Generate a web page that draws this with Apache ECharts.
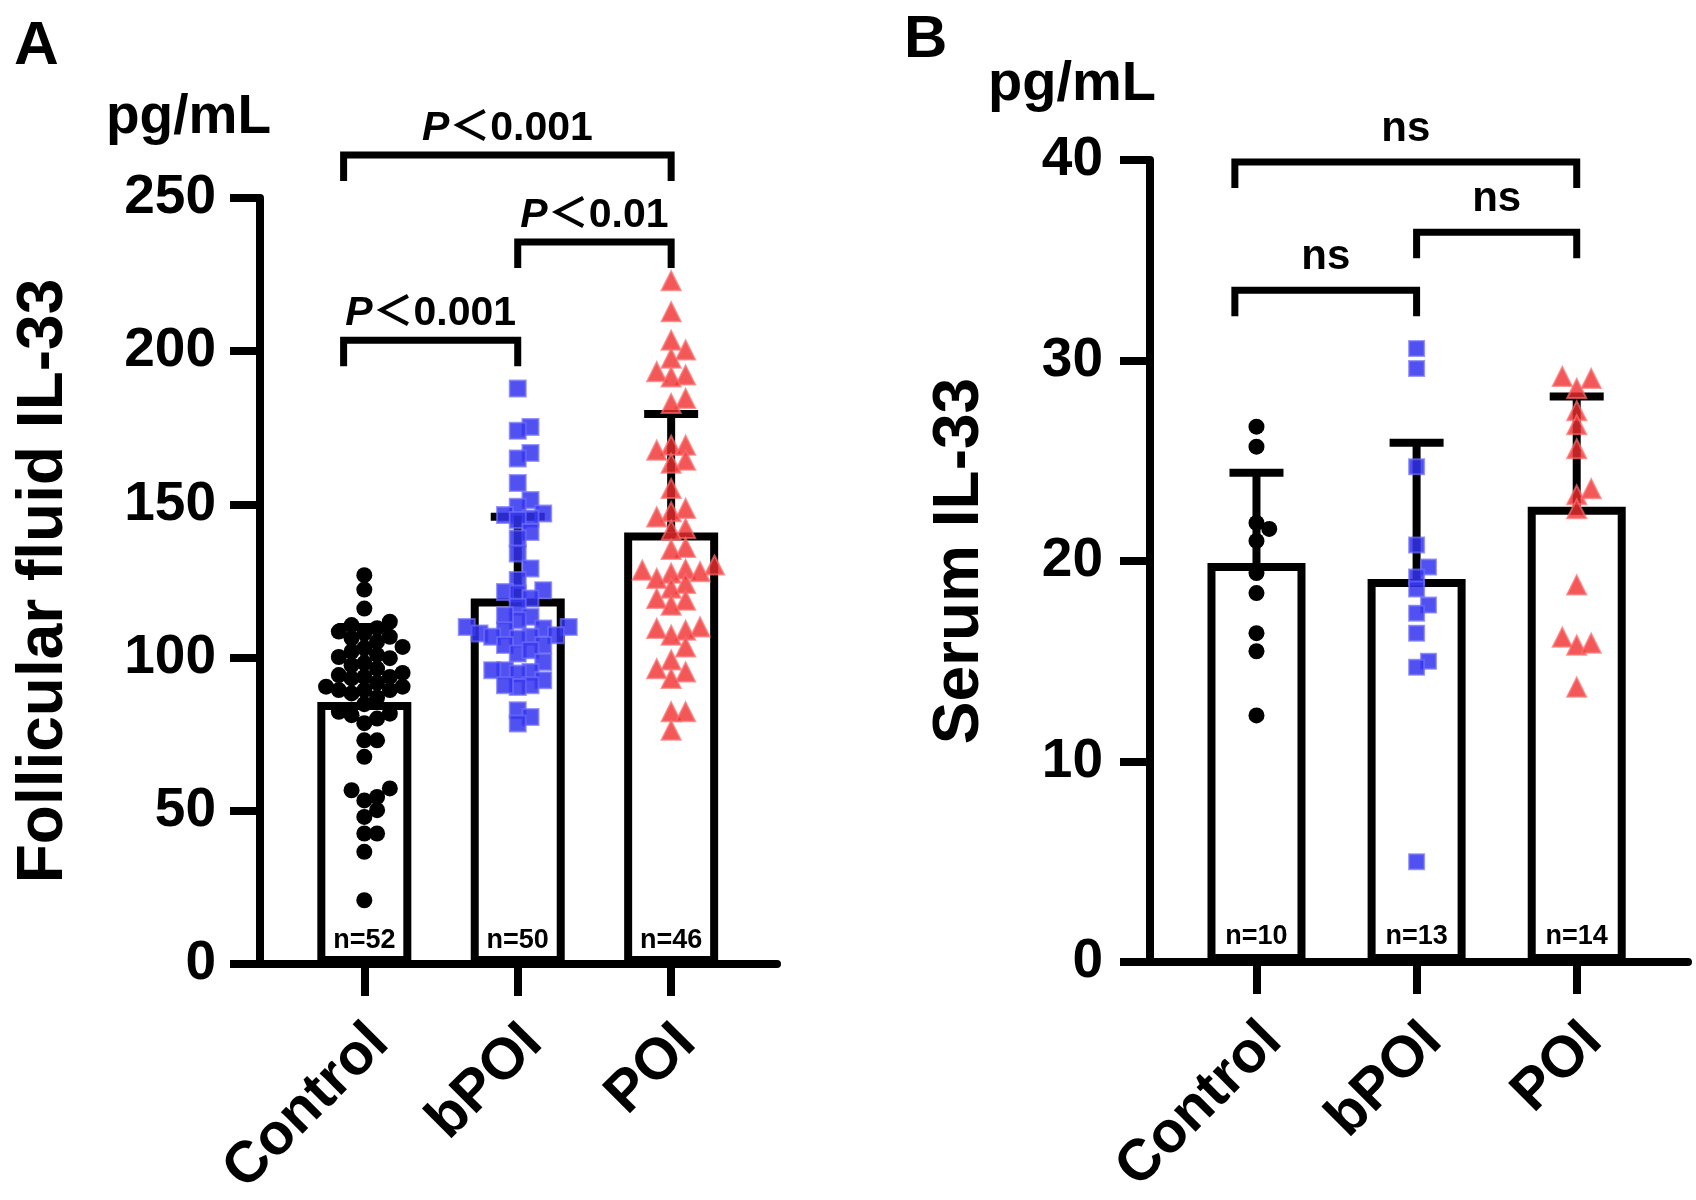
<!DOCTYPE html>
<html>
<head>
<meta charset="utf-8">
<title>IL-33</title>
<script src="https://cdn.jsdelivr.net/npm/echarts@6/dist/echarts.min.js"></script>
<style>
  html, body { margin: 0; padding: 0; background: #fff; }
  #chart { width: 1696px; height: 1200px; }
</style>
</head>
<body>
<div id="chart"></div>
<script>
var FONT = "'Liberation Sans', Arial, 'Noto Sans CJK SC', sans-serif";

var groups = ['Control', 'bPOI', 'POI'];

// panel A - follicular fluid IL-33, pg/mL
var ffControl = [126.9, 122.2, 116.0, 111.7, 110.6, 109.6, 108.0, 106.8, 106.3, 103.5, 103.1, 100.2, 99.8,
  98.2, 97.5, 94.3, 93.7, 93.7, 93.2, 90.5, 90.5, 89.4, 89.4, 89.4, 88.3, 82.3, 81.7, 81.2, 80.1, 78.6,
  73.0, 73.0, 67.6, 57.3, 56.7, 54.5, 53.4, 50.2, 48.0, 42.6, 42.6, 36.6, 20.8,
  108.5, 105.2, 102.0, 100.9, 96.4, 95.0, 91.8, 87.0, 84.8];
var ffBpoi = [187.8, 175.3, 174.0, 166.8, 165.0, 157.0, 151.4, 149.2, 147.0, 146.5, 145.4, 144.9, 141.0,
  138.9, 134.0, 129.1, 125.3, 122.0, 121.4, 120.9, 119.3, 116.6, 113.3, 112.2, 113.8, 110.0, 109.5, 110.0,
  108.9, 106.8, 107.3, 107.9, 106.8, 106.2, 104.1, 104.1, 101.3, 102.4, 98.6, 95.9, 95.3, 95.9, 94.8,
  92.6, 91.0, 90.4, 91.0, 82.8, 80.6, 78.5];
var ffPoi = [223.0, 212.9, 203.6, 200.4, 197.7, 193.3, 192.2, 191.6, 184.6, 182.9, 169.3, 169.3, 167.7,
  164.4, 163.4, 155.2, 148.7, 147.6, 145.9, 142.1, 141.6, 135.9, 135.3, 130.2, 128.8, 128.5, 128.0, 127.5,
  125.8, 124.2, 122.6, 119.3, 118.7, 117.1, 110.0, 109.5, 108.9, 107.3, 103.5, 99.2, 96.4, 95.3, 93.2,
  82.3, 82.3, 76.3];
var ffMean = [85.5, 119.3, 140.8];
var ffSd = [24.5, 26.7, 38.7];
var ffN = [52, 50, 46];
// comparison brackets: from, to, height
var ffBrackets = [[-0.135, 2, 264], [1, 2, 235.6], [-0.135, 1, 203.6]];
var ffLabels = ['P＜0.001', 'P＜0.01', 'P＜0.001'];

// panel B - serum IL-33, pg/mL
var seControl = [26.7, 25.7, 21.9, 21.6, 21.0, 19.4, 18.4, 16.4, 15.5, 12.3];
var seBpoi = [30.6, 29.6, 24.7, 20.8, 19.7, 19.2, 18.6, 17.8, 17.4, 16.4, 15.0, 14.7, 5.0];
var sePoi = [29.1, 29.2, 28.6, 27.5, 26.8, 25.6, 23.3, 23.6, 22.6, 18.8, 16.2, 15.8, 15.9, 13.7];
var seMean = [19.9, 19.1, 22.7];
var seSd = [4.5, 6.8, 5.5];
var seN = [10, 13, 14];
var seBrackets = [[-0.135, 2, 39.9], [1, 2, 36.4], [-0.135, 1, 33.5]];
var seLabels = ['ns', 'ns', 'ns'];

var chart = echarts.init(document.getElementById('chart'));

function xAxisFor(grid, min, max) {
  return {
    type: 'value', gridIndex: grid, min: min, max: max,
    axisLine: { onZero: false, lineStyle: { color: '#000', width: 8 } },
    axisTick: { customValues: [0, 1, 2], length: 32, lineStyle: { color: '#000', width: 8 } },
    axisLabel: {
      customValues: [0.1, 1.1, 2.1], rotate: 45, margin: 70,
      formatter: function (v) { return groups[Math.round(v)]; },
      color: '#000', fontSize: 58, fontWeight: 'bold', fontFamily: FONT
    },
    splitLine: { show: false }
  };
}

function yAxisFor(grid, max, step, title, gap, margin) {
  return {
    type: 'value', gridIndex: grid, min: 0, max: max, interval: step,
    name: title, nameLocation: 'middle', nameRotate: 90, nameGap: gap,
    nameTextStyle: { color: '#000', fontSize: 64, fontWeight: 'bold', fontFamily: FONT },
    axisLine: { show: true, onZero: false, lineStyle: { color: '#000', width: 8 } },
    axisTick: { show: true, length: 30, lineStyle: { color: '#000', width: 8 } },
    axisLabel: { margin: margin, color: '#000', fontSize: 55, fontWeight: 'bold', fontFamily: FONT },
    splitLine: { show: false }
  };
}

function barSeries(id, axis, means, ns, width, dist) {
  return {
    id: id, type: 'bar', xAxisIndex: axis, yAxisIndex: axis, barWidth: width, z: 1,
    data: means.map(function (m, i) { return [i, m]; }),
    itemStyle: { color: '#fff', borderColor: '#000', borderWidth: 8 },
    label: {
      show: true, position: 'insideBottom', distance: dist,
      formatter: function (p) { return 'n=' + ns[p.dataIndex]; },
      color: '#000', fontSize: 27, fontWeight: 'bold', fontFamily: FONT
    }
  };
}

function errSeries(id, axis, means, sds) {
  return {
    id: id, type: 'custom', xAxisIndex: axis, yAxisIndex: axis, z: 2, clip: false,
    data: means.map(function (m, i) { return [i, m, sds[i]]; }),
    renderItem: function (params, api) {
      var x = api.value(0), m = api.value(1), s = api.value(2);
      var p0 = api.coord([x, m]), p1 = api.coord([x, m + s]);
      var cap = 27;
      return { type: 'group', children: [
        { type: 'line', shape: { x1: p0[0], y1: p0[1], x2: p1[0], y2: p1[1] }, style: { stroke: '#000', lineWidth: 8 } },
        { type: 'line', shape: { x1: p1[0] - cap, y1: p1[1], x2: p1[0] + cap, y2: p1[1] }, style: { stroke: '#000', lineWidth: 8 } }
      ] };
    }
  };
}

function bracketSeries(id, axis, rows, labels, lift, size) {
  return {
    id: id, type: 'custom', xAxisIndex: axis, yAxisIndex: axis, z: 5, clip: false,
    data: rows,
    renderItem: function (params, api) {
      var a = api.coord([api.value(0), api.value(2)]);
      var b = api.coord([api.value(1), api.value(2)]);
      var leg = 26;
      var lab = labels[params.dataIndex];
      var txt = lab.charAt(0) === 'P' ? '{i|P}' + lab.slice(1) : lab;
      return { type: 'group', children: [
        { type: 'polyline',
          shape: { points: [[a[0], a[1] + leg], [a[0], a[1]], [b[0], b[1]], [b[0], b[1] + leg]] },
          style: { stroke: '#000', lineWidth: 7, fill: null } },
        { type: 'text',
          style: {
            x: (a[0] + b[0]) / 2, y: a[1] - lift, text: txt, align: 'center', verticalAlign: 'middle',
            fill: '#000', font: 'bold ' + size + 'px ' + FONT,
            rich: { i: { fontStyle: 'italic', fontWeight: 'bold', fontSize: size, fontFamily: FONT, fill: '#000' } }
          } }
      ] };
    }
  };
}

function ptSeries(id, axis, cat, values, symbol, size, color, edge) {
  return {
    id: id, type: 'scatter', xAxisIndex: axis, yAxisIndex: axis, z: 3,
    symbol: symbol, symbolSize: size,
    itemStyle: { color: color, opacity: 1, borderColor: edge || color, borderWidth: edge ? 2 : 0 },
    data: values.map(function (v) { return [cat, v]; })
  };
}

var BLUE = 'rgba(50,50,240,0.85)', BLUE_EDGE = 'rgba(110,110,250,0.7)';
var RED = 'rgba(240,45,45,0.8)', RED_EDGE = 'rgba(250,110,110,0.7)';

chart.setOption({
  animation: false,
  backgroundColor: '#fff',
  grid: [
    { left: 260, right: 919, top: 198, bottom: 236, outerBoundsMode: 'none', containLabel: false },
    { left: 1150, right: 8, top: 160, bottom: 238, outerBoundsMode: 'none', containLabel: false }
  ],
  xAxis: [xAxisFor(0, -0.68, 2.69), xAxisFor(1, -0.665, 2.695)],
  yAxis: [
    yAxisFor(0, 250, 50, 'Follicular fluid IL-33', 184, 44),
    yAxisFor(1, 40, 10, 'Serum IL-33', 158, 47)
  ],
  graphic: [
    { type: 'text', left: 14, top: 16, style: { text: 'A', font: 'bold 62px ' + FONT, fill: '#000' } },
    { type: 'text', left: 904, top: 10, style: { text: 'B', font: 'bold 60px ' + FONT, fill: '#000' } },
    { type: 'text', left: 106, top: 90, style: { text: 'pg/mL', font: 'bold 55px ' + FONT, fill: '#000' } },
    { type: 'text', left: 988, top: 57, style: { text: 'pg/mL', font: 'bold 56px ' + FONT, fill: '#000' } }
  ],
  series: [
    barSeries('ffBars', 0, ffMean, ffN, 94, 10),
    errSeries('ffErr', 0, ffMean, ffSd),
    ptSeries('ffP0', 0, 0, ffControl, 'circle', 16, '#000'),
    ptSeries('ffP1', 0, 1, ffBpoi, 'rect', 16, BLUE, BLUE_EDGE),
    ptSeries('ffP2', 0, 2, ffPoi, 'triangle', 19, RED, RED_EDGE),
    bracketSeries('ffBr', 0, ffBrackets, ffLabels, 26, 41),

    barSeries('seBars', 1, seMean, seN, 98, 12),
    errSeries('seErr', 1, seMean, seSd),
    ptSeries('seP0', 1, 0, seControl, 'circle', 16, '#000'),
    ptSeries('seP1', 1, 1, seBpoi, 'rect', 15, BLUE, BLUE_EDGE),
    ptSeries('seP2', 1, 2, sePoi, 'triangle', 19, RED, RED_EDGE),
    bracketSeries('seBr', 1, seBrackets, seLabels, 33, 42)
  ]
});

// spread overlapping points sideways (beeswarm), measured in pixels through the axes
function swarm(values, cat, grid, diam) {
  var finder = { gridIndex: grid };
  var base = chart.convertToPixel(finder, [cat, 0]);
  var unit = chart.convertToPixel(finder, [cat + 1, 0])[0] - base[0];
  var step = diam * 0.85;
  var order = values.map(function (v, i) { return i; })
    .sort(function (a, b) { return values[a] - values[b]; });
  var placed = [];
  var out = new Array(values.length);
  order.forEach(function (i) {
    var py = chart.convertToPixel(finder, [cat, values[i]])[1];
    var px = 0;
    for (var k = 0; k < 60; k++) {
      px = Math.ceil(k / 2) * (k % 2 ? 1 : -1) * step;
      var free = placed.every(function (p) {
        var dx = p[0] - px, dy = p[1] - py;
        return dx * dx + dy * dy >= diam * diam * 0.68;
      });
      if (free) break;
    }
    placed.push([px, py]);
    out[i] = [cat + px / unit, values[i]];
  });
  return out;
}

chart.setOption({
  series: [
    { id: 'ffP0', data: swarm(ffControl, 0, 0, 15) },
    { id: 'ffP1', data: swarm(ffBpoi, 1, 0, 15) },
    { id: 'ffP2', data: swarm(ffPoi, 2, 0, 17) },
    { id: 'seP0', data: swarm(seControl, 0, 1, 15) },
    { id: 'seP1', data: swarm(seBpoi, 1, 1, 14) },
    { id: 'seP2', data: swarm(sePoi, 2, 1, 17) }
  ]
});
</script>
</body>
</html>
